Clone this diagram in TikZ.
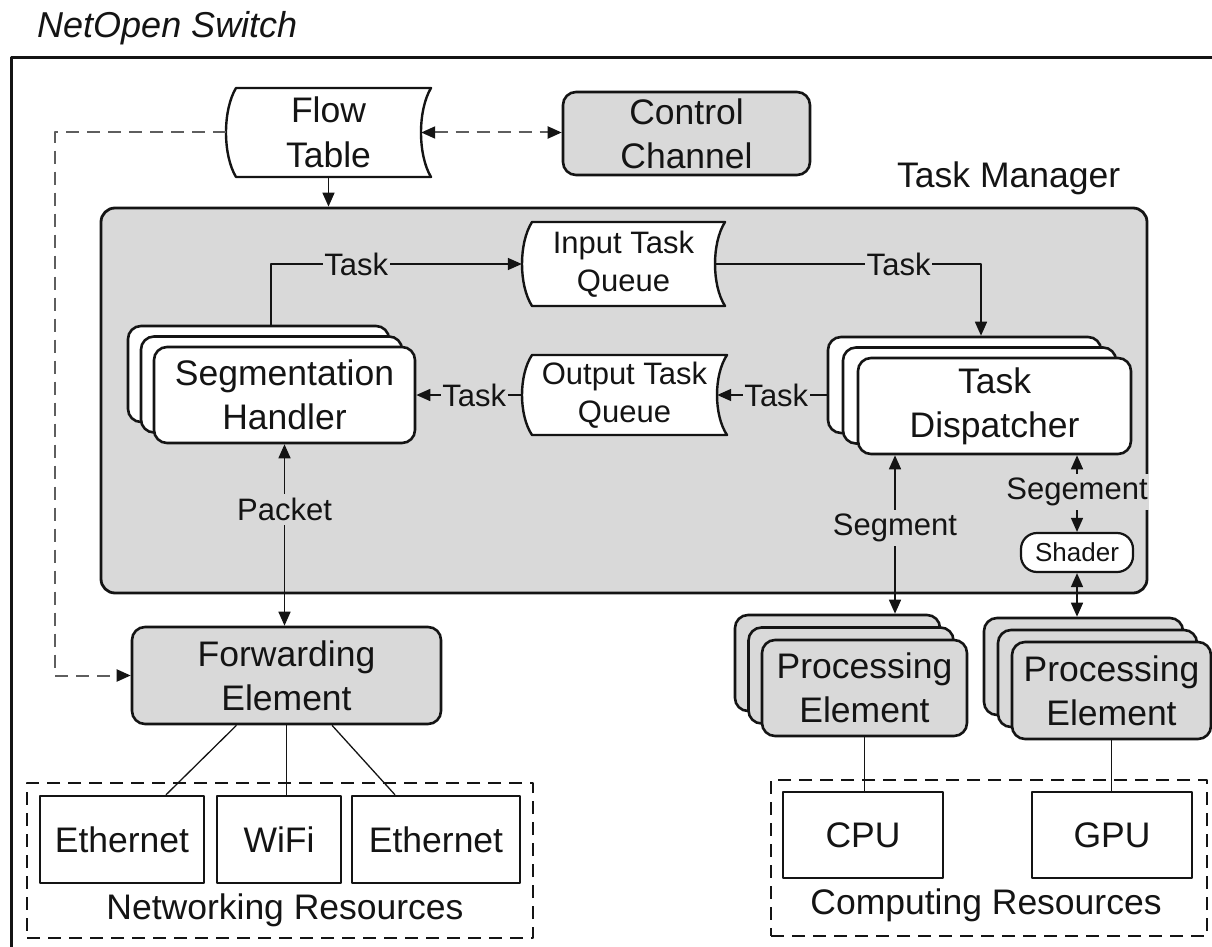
\documentclass[tikz,border=0pt]{standalone}
\usepackage{fontspec}
\setmainfont{Liberation Sans}
\usetikzlibrary{arrows.meta}

\definecolor{boxgray}{HTML}{D9D9D9}
\definecolor{dashgray}{HTML}{5E5E5E}
\definecolor{ink}{HTML}{141414}

\newcommand\fntMain{\fontsize{35.5}{44}\selectfont}
\newcommand\fntLabel{\fontsize{31}{38}\selectfont}
\newcommand\fntSmall{\fontsize{26}{30}\selectfont}

% "stored data" outline: left bulge x, right corner x, top y, bottom y, bulge
\newcommand\storeddata[5]{%
  \draw[qline] ({#1+#5},#3) -- (#2,#3)
    .. controls ({#2-1.333*#5},{#3+0.25*(#4-#3)}) and ({#2-1.333*#5},{#4-0.25*(#4-#3)}) .. (#2,#4)
    -- ({#1+#5},#4)
    .. controls ({#1-0.333*#5},{#4-0.25*(#4-#3)}) and ({#1-0.333*#5},{#3+0.25*(#4-#3)}) .. ({#1+#5},#3)
    -- cycle;}

\tikzset{
  box/.style={draw=ink, line width=2.6pt, rounded corners=13pt, align=center,
    font=\fntMain, inner sep=0pt, text=ink},
  grayb/.style={box, fill=boxgray},
  whiteb/.style={box, fill=white},
  res/.style={draw=ink, line width=2.4pt, fill=white, font=\fntMain, inner sep=0pt, text=ink},
  resgroup/.style={draw=ink, line width=2.6pt, dash pattern=on 13pt off 8pt, inner sep=0pt},
  grouptext/.style={font=\fntMain, text=ink, inner sep=0pt},
  conn/.style={draw=ink, line width=1.6pt},
  tip/.tip={Triangle[length=14pt,width=12pt]},
  arr/.style={conn, -tip},
  darr/.style={conn, tip-tip},
  dashconn/.style={draw=dashgray, line width=2pt, dash pattern=on 13pt off 8pt},
  lbl/.style={font=\fntLabel, fill=boxgray, inner xsep=1.5pt, inner ysep=4pt, text=ink},
  qnode/.style={inner sep=0pt, align=center, font=\fntLabel, text=ink},
  qline/.style={draw=ink, line width=2.4pt, fill=white},
  shbox/.style={whiteb, minimum width=261pt, minimum height=96pt},
  tdbox/.style={whiteb, minimum width=273pt, minimum height=96pt},
  pebox/.style={grayb, minimum width=205pt, minimum height=96pt},
  pebbox/.style={grayb, minimum width=199pt, minimum height=97pt},
}

\begin{document}
\begin{tikzpicture}[x=1pt, y=-1pt, line join=round]
\useasboundingbox (0,0) rectangle (1212,947);

% switch frame and title
\draw[draw=ink, line width=3pt] (1212,58) -- (11,58) -- (11,947);
\node[anchor=base west, inner sep=0pt, text=ink,
      font=\fontsize{36}{40}\selectfont\itshape] (title) at (37,38) {NetOpen Switch};

% flow table and control channel
\storeddata{226}{431}{88}{177}{10}
\node[qnode, font=\fontsize{35.5}{45}\selectfont, minimum width=205pt, minimum height=89pt]
  (ft) at (328.5,132.5) {Flow\\Table};
\node[grayb, minimum width=247pt, minimum height=83pt] (cc) at (686.5,133.5) {Control\\Channel};

% task manager
\node[anchor=base west, inner sep=0pt, font=\fntMain, text=ink] (tmlabel) at (897,187) {Task Manager};
\node[draw=ink, fill=boxgray, line width=2.8pt, rounded corners=14pt, inner sep=0pt,
      minimum width=1046pt, minimum height=385pt] (tm) at (624,400.5) {};

\storeddata{522}{725}{222}{306}{10}
\node[qnode, minimum width=203pt, minimum height=84pt] (itq) at (623.5,264) {Input Task\\Queue};
\storeddata{522}{727}{355}{435}{10}
\node[qnode, minimum width=205pt, minimum height=80pt] (otq) at (624.5,395) {Output Task\\Queue};

\node[shbox] (sh3) at (258.5,374) {};
\node[shbox] (sh2) at (271.5,384.5) {};
\node[shbox] (sh) at (284.5,395) {Segmentation\\Handler};

\node[tdbox] (td3) at (964.5,385) {};
\node[tdbox] (td2) at (979.5,395.5) {};
\node[tdbox] (td) at (994.5,406) {Task\\Dispatcher};

\node[whiteb, rounded corners=16pt, line width=2.2pt, font=\fntSmall,
      minimum width=112pt, minimum height=39pt] (shd) at (1077,552.5) {Shader};

% forwarding and processing elements
\node[grayb, minimum width=309pt, minimum height=97pt] (fe) at (286.5,675.5) {Forwarding\\Element};

\node[pebox] (pe1c) at (837.5,663) {};
\node[pebox] (pe1b) at (851,675.5) {};
\node[pebox] (pe1) at (864.5,688) {Processing\\Element};

\node[pebbox] (pe2c) at (1083.5,666.5) {};
\node[pebbox] (pe2b) at (1097.5,678.5) {};
\node[pebbox] (pe2) at (1111.5,690.5) {Processing\\Element};

% resources
\node[resgroup, minimum width=506pt, minimum height=155pt] (netres) at (280,860.5) {};
\node[res, minimum width=164pt, minimum height=87pt] (eth1) at (122,839.5) {Ethernet};
\node[res, minimum width=124pt, minimum height=87pt] (wifi) at (279,839.5) {WiFi};
\node[res, minimum width=168pt, minimum height=87pt] (eth2) at (436,839.5) {Ethernet};
\node[grouptext] (netlbl) at (285,910) {Networking Resources};

\node[resgroup, minimum width=436pt, minimum height=156pt] (compres) at (989,858) {};
\node[res, minimum width=160pt, minimum height=86pt] (cpu) at (863,835) {CPU};
\node[res, minimum width=160pt, minimum height=86pt] (gpu) at (1112,835) {GPU};
\node[grouptext] (complbl) at (986,905) {Computing Resources};

% connectors
\coordinate (dk) at (55,0);
\draw[dashconn, -{Triangle[length=14pt,width=12pt,color=ink]}]
  (ft.west) -- (ft.west -| dk) -- (fe.west -| dk) -- (fe.west);
\draw[dashconn, {Triangle[length=14pt,width=12pt,color=ink]}-{Triangle[length=14pt,width=12pt,color=ink]}]
  ([xshift=-10pt]ft.east) -- (cc.west |- ft.east);
\draw[arr] (ft.south) -- (ft.south |- tm.north);

\coordinate (tA) at (271,264);
\draw[arr] (sh3.north -| tA) -- (tA) -- node[lbl, pos=0.34] {Task} (itq.west);
\coordinate (tB) at (981,264);
\draw[arr] ([xshift=-10pt]itq.east) -- node[lbl, pos=0.69] {Task} (tB) -- (td3.north -| tB);
\draw[arr] (td3.west |- otq.east) -- node[lbl, pos=0.46] {Task} ([xshift=-10pt]otq.east);
\draw[arr] (otq.west) -- node[lbl, pos=0.45] {Task} (sh.east |- otq.west);

\draw[darr] (sh.south) -- node[lbl, pos=0.36] {Packet} (sh.south |- fe.north);

\coordinate (sg) at (895,0);
\draw[darr] (td.south -| sg) -- node[lbl, pos=0.46] {Segment} (pe1c.north -| sg);
\draw[darr] (td.south -| shd.north) -- node[lbl, pos=0.48] {Segement} (shd.north);
\draw[darr] (shd.south) -- (pe2c.north -| shd.south);

\draw[conn, line width=1.3pt] ([xshift=-50pt]fe.south) -- ([xshift=44pt]eth1.north);
\draw[conn, line width=1.3pt] (fe.south) -- (fe.south |- wifi.north);
\draw[conn, line width=1.3pt] ([xshift=45.5pt]fe.south) -- ([xshift=-41pt]eth2.north);
\draw[conn, line width=1.3pt] (pe1.south) -- (pe1.south |- cpu.north);
\draw[conn, line width=1.3pt] (pe2.south) -- (pe2.south |- gpu.north);
\end{tikzpicture}
\end{document}
